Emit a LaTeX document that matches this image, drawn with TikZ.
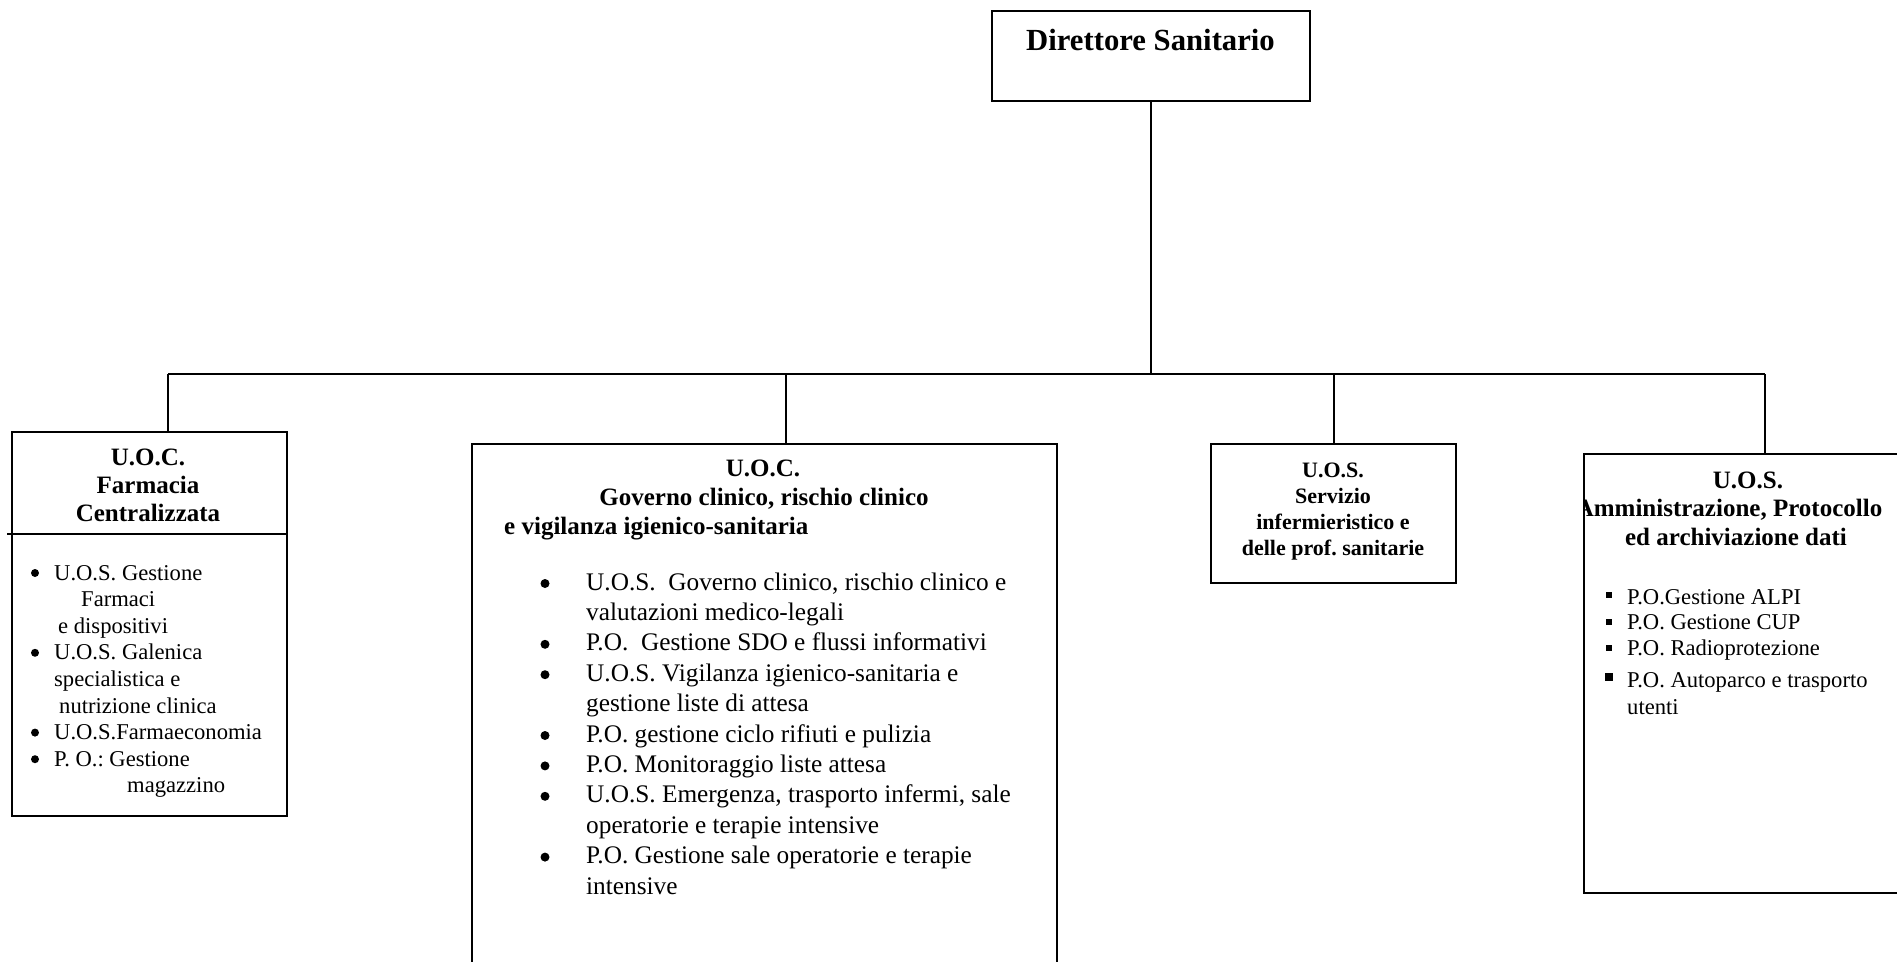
\documentclass[tikz,border=0pt]{standalone}
\usepackage{fontspec}
\setmainfont{Liberation Serif}
\frenchspacing
\tikzset{
  box/.style={draw, line width=1.8pt, inner sep=0pt, anchor=north west},
  conn/.style={line width=1.4pt},
  tl/.style={inner sep=0pt, anchor=base west},
  tc/.style={inner sep=0pt, anchor=base},
  hTop/.style={font=\fontsize{30.7}{36}\selectfont\bfseries},
  hBig/.style={font=\fontsize{25}{30}\selectfont\bfseries},
  hSmall/.style={font=\fontsize{22}{26}\selectfont\bfseries},
  bBig/.style={font=\fontsize{25.3}{30}\selectfont},
  bSmall/.style={font=\fontsize{22.6}{27}\selectfont},
}
\begin{document}
\begin{tikzpicture}[x=1pt,y=-1pt]
\useasboundingbox (0,0) rectangle (1897,961);

% boxes
\node[box, minimum width=318pt, minimum height=90pt] (dir) at (991,10) {};
\node[box, minimum width=275pt, minimum height=384pt] (b1) at (11,431) {};
\node[box, minimum width=585pt, minimum height=540pt] (b2) at (471,443) {};
\node[box, minimum width=245pt, minimum height=139pt] (b3) at (1210,443) {};
\node[box, minimum width=330pt, minimum height=439pt] (b4) at (1583,453) {};
\coordinate (dv) at (7,534);
\draw[line width=1.8pt] (dv) -- (dv -| b1.east);

% connectors
\coordinate (c1) at (168,374);
\coordinate (c2) at (786,374);
\coordinate (c3) at (1334,374);
\coordinate (c4) at (1765,374);
\draw[conn] (dir.south) -- (dir.south |- c1);
\draw[conn] (c1) -- (c4);
\draw[conn] (c1) -- (c1 |- b1.north);
\draw[conn] (c2) -- (c2 |- b2.north);
\draw[conn] (c3) -- (c3 |- b3.north);
\draw[conn] (c4) -- (c4 |- b4.north);

% top text
\node[tc, hTop] (tdir) at (1150.5,50) {Direttore Sanitario};

% box 1
\node[tc, hBig] (h1a) at (148,465) {U.O.C.};
\node[tc, hBig] (h1b) at (148,493) {Farmacia};
\node[tc, hBig] (h1c) at (148,521) {Centralizzata};
\foreach \yy in {580,659.8,739.6,766.2} \fill (35,\yy-7) circle (4pt);
\begin{scope}[every node/.style={bSmall}]
\node[tl] (l1a) at (54,580) {U.O.S. Gestione};
\node[tl] (l1b) at (81,606.6) {Farmaci};
\node[tl] (l1c) at (58,633.2) {e dispositivi};
\node[tl] (l1d) at (54,659.8) {U.O.S. Galenica};
\node[tl] (l1e) at (54,686.4) {specialistica e};
\node[tl] (l1f) at (59,713) {nutrizione clinica};
\node[tl] (l1g) at (54,739.6) {U.O.S.Farmaeconomia};
\node[tl] (l1h) at (54,766.2) {P. O.: Gestione};
\node[tl] (l1i) at (127,792.8) {magazzino};
\end{scope}

% box 2
\node[tc, hBig] (h2a) at (763,476) {U.O.C.};
\node[tc, hBig] (h2b) at (764,505) {Governo clinico, rischio clinico};
\node[tl, hBig] (h2c) at (504,534) {e vigilanza igienico-sanitaria};
\foreach \yy in {590,650.8,681.2,742,772.4,802.8,863.6} \fill (545,\yy-6.5) circle (4.5pt);
\begin{scope}[every node/.style={bBig}]
\node[tl] (l2a) at (586,590) {U.O.S.\ \ Governo clinico, rischio clinico e};
\node[tl] (l2b) at (586,620.4) {valutazioni medico-legali};
\node[tl] (l2c) at (586,650.8) {P.O.\ \ Gestione SDO e flussi informativi};
\node[tl] (l2d) at (586,681.2) {U.O.S. Vigilanza igienico-sanitaria e};
\node[tl] (l2e) at (586,711.6) {gestione liste di attesa};
\node[tl] (l2f) at (586,742) {P.O. gestione ciclo rifiuti e pulizia};
\node[tl] (l2g) at (586,772.4) {P.O. Monitoraggio liste attesa};
\node[tl] (l2h) at (586,802.8) {U.O.S. Emergenza, trasporto infermi, sale};
\node[tl] (l2i) at (586,833.2) {operatorie e terapie intensive};
\node[tl] (l2j) at (586,863.6) {P.O. Gestione sale operatorie e terapie};
\node[tl] (l2k) at (586,894) {intensive};
\end{scope}

% box 3
\node[tc, hSmall] (h3a) at (1333,477) {U.O.S.};
\node[tc, hSmall] (h3b) at (1333,503) {Servizio};
\node[tc, hSmall] (h3c) at (1333,529) {infermieristico e};
\node[tc, hSmall] (h3d) at (1333,555) {delle prof. sanitarie};

% box 4
\begin{scope}
\clip (b4.north west) rectangle (1910,900);
\node[tc, hBig] (h4a) at (1748,488) {U.O.S.};
\node[tc, hBig] (h4b) at (1729,516) {Amministrazione, Protocollo};
\node[tc, hBig] (h4c) at (1736,545) {ed archiviazione dati};
\end{scope}
\fill (1606,592) rectangle (1612,598);
\fill (1606,619) rectangle (1612,625);
\fill (1606,645) rectangle (1612,651);
\fill (1605,673) rectangle (1613,681);
\begin{scope}[every node/.style={bSmall}]
\node[tl] (l4a) at (1627,604) {P.O.Gestione ALPI};
\node[tl] (l4b) at (1627,629) {P.O. Gestione CUP};
\node[tl] (l4c) at (1627,655) {P.O. Radioprotezione};
\node[tl] (l4d) at (1627,687) {P.O. Autoparco e trasporto};
\node[tl] (l4e) at (1627,714) {utenti};
\end{scope}
\end{tikzpicture}
\end{document}
